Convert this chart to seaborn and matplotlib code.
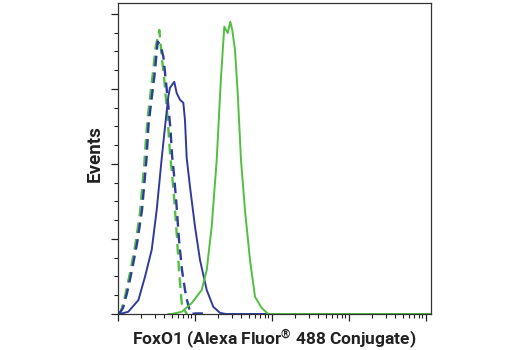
import matplotlib
matplotlib.use("Agg")
import matplotlib.pyplot as plt
import seaborn as sns
import numpy as np
import pandas as pd
from matplotlib.ticker import LogLocator, NullFormatter, MultipleLocator

# ---- data ----
# Green solid: FoxO1 (Alexa Fluor 488) stained
green_x = [450, 498, 672, 906, 1222, 1419, 1648, 1914, 2177, 2402, 2660, 2873, 3050,
           3306, 3586, 3955, 4458, 5178, 6015, 7345, 8954, 20000, 1200000]
green_y = [0, 0, 0.6, 2.9, 6.4, 11.7, 23.3, 41.1, 63.2, 76.6, 74.9, 77.9, 75.7,
           70.4, 58.9, 41.1, 27.7, 14.4, 4.6, 1.6, 0, 0, 0]

# Blue solid
blue_x = [100, 106, 136, 184, 224, 274, 318, 370, 408, 450, 473, 538, 578, 638, 705,
          741, 780, 861, 1000, 1161, 1419, 1729, 2113, 2528, 1200000]
blue_y = [0, 0, 0.6, 3.7, 9.9, 17.1, 27.7, 41.6, 49.9, 57.9, 60.3, 61.9, 58.9, 57.1, 56.3,
          51.7, 41.6, 33.9, 23.3, 14.4, 6.4, 1.9, 0.3, 0, 0]

# Green dashed: control
gdash_x = [101, 109, 123, 143, 166, 193, 220, 229, 243, 263, 287, 309, 344, 370, 399,
           429, 450, 473, 498, 538, 578, 620, 672, 726, 787]
gdash_y = [0, 0.6, 4.6, 10.9, 17.9, 26.9, 40.3, 45.6, 52.3, 58.4, 65.1, 71.3, 75.7, 68.6, 62.4,
           55.3, 49.6, 42.9, 38.4, 30.4, 21.6, 11.7, 2.9, 1.1, 0]

# Blue dashed: control
bdash_x = [103, 116, 131, 152, 177, 205, 234, 249, 272, 298, 328, 356, 388, 420, 453,
           481, 503, 534, 575, 620, 678, 741, 787, 836, 887, 1031, 1233, 1390]
bdash_y = [0, 1.6, 5.6, 11.7, 18.9, 27.7, 41.1, 50.4, 57.1, 63.7, 72.6, 71.7, 68.6, 61.9, 54.9,
           49.1, 42.4, 37.1, 29.1, 19.7, 11.7, 6.4, 3.7, 1.6, 0, 0.15, 0.15, 0]

x_label = "FoxO1 (Alexa Fluor$^{®}$ 488 Conjugate)"
y_label = "Events"

BLUE = "#2f3c9e"
GREEN = "#52bf41"

sns.set_style("white")
plt.rcParams["font.family"] = ["Roboto", "DejaVu Sans"]
plt.rcParams["mathtext.fontset"] = "custom"
plt.rcParams["mathtext.rm"] = "Roboto:bold"
plt.rcParams["mathtext.default"] = "rm"

fig = plt.figure(figsize=(5.2, 3.5), dpi=100)
ax = fig.add_axes([118 / 520, 1 - 314 / 350, (431 - 118) / 520, (314 - 3) / 350])

def draw(xs, ys, color, lw, dashed=False):
    df = pd.DataFrame({"x": xs, "y": ys})
    n0 = len(ax.lines)
    sns.lineplot(data=df, x="x", y="y", color=color, lw=lw, ax=ax,
                 estimator=None, sort=False)
    line = ax.lines[n0]
    if dashed:
        line.set_dashes((4.5, 2.6))
    return line

draw(gdash_x, gdash_y, GREEN, 1.7, dashed=True)
draw(bdash_x, bdash_y, BLUE, 1.7, dashed=True)
draw(blue_x, blue_y, BLUE, 1.4)
draw(green_x, green_y, GREEN, 1.4)

ax.set_xscale("log")
ax.set_xlim(100, 10 ** 6.065)
ax.set_ylim(0, 82.9)
ax.xaxis.set_major_locator(LogLocator(base=10, numticks=10))
ax.xaxis.set_minor_locator(LogLocator(base=10, subs=np.arange(2, 10), numticks=20))
ax.xaxis.set_major_formatter(NullFormatter())
ax.xaxis.set_minor_formatter(NullFormatter())
ax.yaxis.set_major_locator(MultipleLocator(20))
ax.yaxis.set_minor_locator(MultipleLocator(5))
ax.yaxis.set_major_formatter(NullFormatter())

ax.tick_params(which="major", direction="out", length=5, width=0.9, color="#222222",
               bottom=True, left=True)
ax.tick_params(which="minor", direction="out", length=3, width=0.8, color="#222222",
               bottom=True, left=True)
for s in ax.spines.values():
    s.set_color("#333333")
    s.set_linewidth(0.9)

ax.set_xlabel(x_label, fontsize=12.5, fontweight="bold", labelpad=1, color="#222222")
ax.set_ylabel(y_label, fontsize=13.5, fontweight="bold", color="#222222")
ax.yaxis.set_label_coords(-0.045, 0.515)

fig.savefig("out.png", dpi=100)
